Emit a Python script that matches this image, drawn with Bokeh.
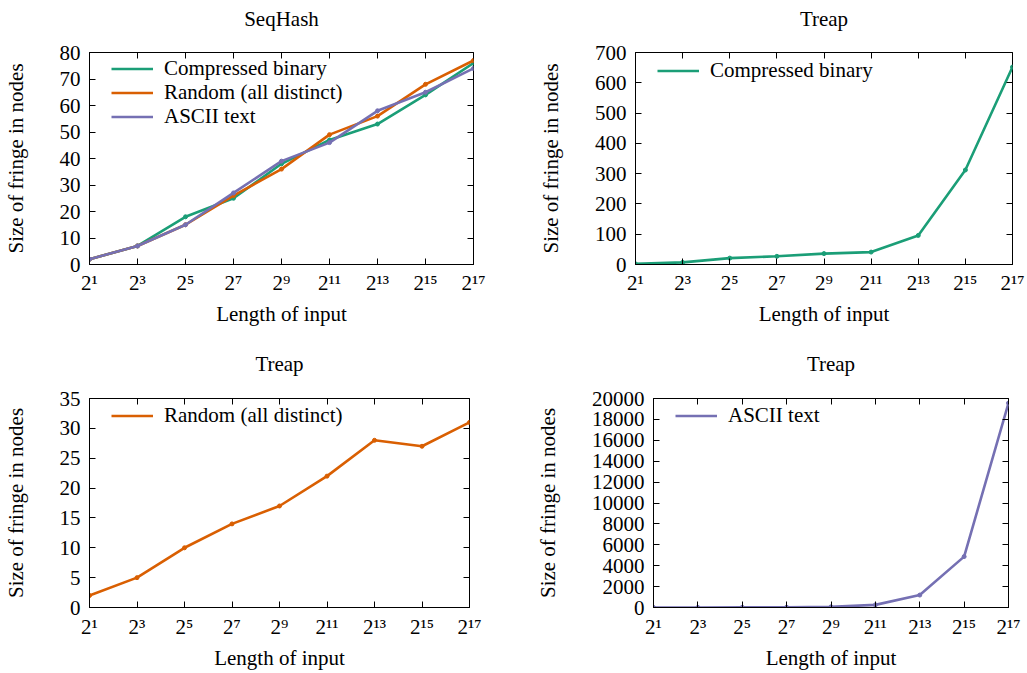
from bokeh.plotting import figure
from bokeh.models import FixedTicker, LinearAxis, LogAxis, Legend, LegendItem, Range1d
from bokeh.layouts import column, row
from bokeh.embed import file_html
from bokeh.resources import INLINE

FONT = "Liberation Serif"
FS = "21px"

# ---- data ----
lengths = [2, 8, 32, 128, 512, 2048, 8192, 32768, 131072]
x_tick_labels = ["2¹", "2³", "2⁵", "2⁷", "2⁹", "2¹¹", "2¹³", "2¹⁵", "2¹⁷"]

seqhash_compressed = [2, 7, 18, 25, 38, 47, 53, 64, 76]
seqhash_random = [2, 7, 15, 26, 36, 49, 56, 68, 77]
seqhash_ascii = [2, 7, 15, 27, 39, 46, 58, 65, 74]

treap_compressed = [2, 7, 21, 27, 36, 41, 96, 312, 652]
treap_random = [2, 5, 10, 14, 17, 22, 28, 27, 31]
treap_ascii = [2, 7, 15, 27, 60, 250, 1190, 4870, 19560]

seqhash_yticks = [0, 10, 20, 30, 40, 50, 60, 70, 80]
treap_cb_yticks = [0, 100, 200, 300, 400, 500, 600, 700]
treap_rand_yticks = [0, 5, 10, 15, 20, 25, 30, 35]
treap_ascii_yticks = [0, 2000, 4000, 6000, 8000, 10000, 12000, 14000, 16000, 18000, 20000]

GREEN = "#1b9e77"
ORANGE = "#d95f02"
PURPLE = "#7570b3"

X_LABEL = "Length of input"
Y_LABEL = "Size of fringe in nodes"

ITEM_MEAS = 25.5   # measured legend row height
ROW_PITCH = 24     # legend row pitch


def make(title, W, H, bl, br, bt, bb, yticks, series, leg_x, leg_first_center,
         title_standoff, xlab_standoff):
    p = figure(width=W, height=H, x_axis_type="log",
               x_range=Range1d(lengths[0], lengths[-1]),
               y_range=Range1d(yticks[0], yticks[-1]),
               output_backend="svg", toolbar_location=None,
               min_border_left=bl, min_border_right=br,
               min_border_top=bt, min_border_bottom=bb,
               title=title)
    p.background_fill_color = "white"
    p.border_fill_color = "white"
    p.outline_line_color = "black"
    p.outline_line_width = 1
    p.grid.visible = False

    p.title.align = "center"
    p.title.text_font = FONT
    p.title.text_font_size = FS
    p.title.text_font_style = "normal"
    p.title.text_color = "black"
    p.title.standoff = title_standoff

    xa = p.xaxis[0]
    xa.ticker = FixedTicker(ticks=lengths)
    xa.major_label_overrides = dict(zip(lengths, x_tick_labels))
    xa.axis_label = X_LABEL
    xa.major_label_standoff = xlab_standoff
    xa.axis_label_standoff = 4

    ya = p.yaxis[0]
    ya.ticker = FixedTicker(ticks=yticks)
    ya.axis_label = Y_LABEL
    ya.major_label_standoff = 9
    ya.axis_label_standoff = 29

    for ax in (xa, ya):
        ax.major_tick_in = 6
        ax.major_tick_out = 0
        ax.minor_tick_line_color = None
        ax.major_tick_line_color = "black"
        ax.axis_line_color = "black"
        ax.major_label_text_font = FONT
        ax.major_label_text_font_size = FS
        ax.major_label_text_color = "black"
        ax.axis_label_text_font = FONT
        ax.axis_label_text_font_size = FS
        ax.axis_label_text_font_style = "normal"
        ax.axis_label_text_color = "black"

    # mirror ticks on top
    top = LogAxis(ticker=FixedTicker(ticks=lengths),
                  major_label_overrides={t: "" for t in lengths},
                  major_label_text_font_size="0px", major_label_standoff=0,
                  major_tick_in=6, major_tick_out=0,
                  minor_tick_line_color=None, axis_line_color=None)
    p.add_layout(top, "above")
    # invisible spacer between frame and title
    spacer = LogAxis(ticker=FixedTicker(ticks=lengths),
                     major_label_overrides={t: "" for t in lengths},
                     major_label_text_font_size="0px", major_label_standoff=0,
                     major_tick_in=0, major_tick_out=18,
                     major_tick_line_color=None,
                     minor_tick_line_color=None, axis_line_color=None)
    p.add_layout(spacer, "above")
    right = LinearAxis(ticker=FixedTicker(ticks=yticks),
                       major_label_overrides={t: "" for t in yticks},
                       major_label_text_font_size="0px", major_label_standoff=0,
                       major_tick_in=6, major_tick_out=0,
                       minor_tick_line_color=None, axis_line_color=None)
    p.add_layout(right, "right")

    frame_h = H - bt - bb
    for i, (name, vals, color) in enumerate(series):
        r1 = p.line(lengths, vals, line_color=color, line_width=2.6)
        p.scatter(lengths, vals, size=4, color=color)
        center = leg_first_center + i * ROW_PITCH
        vy = frame_h - (center - ITEM_MEAS / 2) - ITEM_MEAS
        leg = Legend(items=[LegendItem(label=name, renderers=[r1])],
                     location=(leg_x, vy),
                     glyph_width=42, glyph_height=21, label_height=21,
                     label_standoff=11, padding=0, margin=0, spacing=0,
                     border_line_color=None, background_fill_alpha=0,
                     label_text_font=FONT, label_text_font_size=FS,
                     label_text_color="black")
        p.add_layout(leg, "center")
    return p


p1 = make("SeqHash", 515, 336, 86, 42, 51, 72, seqhash_yticks,
          [("Compressed binary", seqhash_compressed, GREEN),
           ("Random (all distinct)", seqhash_random, ORANGE),
           ("ASCII text", seqhash_ascii, PURPLE)], 22, 17, 8, 6)
p2 = make("Treap", 512, 336, 120, 15, 51, 72, treap_cb_yticks,
          [("Compressed binary", treap_compressed, GREEN)], 22, 19, 8, 6)
p3 = make("Treap", 515, 336, 82, 46, 62, 62, treap_rand_yticks,
          [("Random (all distinct)", treap_random, ORANGE)], 22, 20, 10, 7)
p4 = make("Treap", 512, 336, 138, 19, 62, 62, treap_ascii_yticks,
          [("ASCII text", treap_ascii, PURPLE)], 22, 20, 10, 7)

layout = column(row(p1, p2), row(p3, p4))

with open("out.html", "w") as f:
    f.write(file_html(layout, INLINE))
